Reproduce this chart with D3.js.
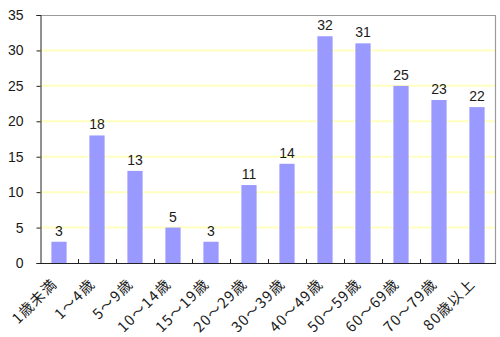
<!DOCTYPE html>
<html>
<head>
<meta charset="utf-8">
<script src="https://cdn.jsdelivr.net/npm/d3@7"></script>
<style>
  html, body { margin: 0; padding: 0; background: #fff; }
  svg { display: block; }
</style>
</head>
<body>
<svg id="chart" width="500" height="337"></svg>
<script>
// Age groups and counts
const categories = ["1歳未満", "1～4歳", "5～9歳", "10～14歳", "15～19歳", "20～29歳",
                    "30～39歳", "40～49歳", "50～59歳", "60～69歳", "70～79歳", "80歳以上"];
const counts = [3, 18, 13, 5, 3, 11, 14, 32, 31, 25, 23, 22];
const yTicks = [0, 5, 10, 15, 20, 25, 30, 35];

const svg = d3.select("#chart");
const margin = { left: 40, right: 4, top: 15, bottom: 74 };
const W = 500, H = 337;
const x0 = margin.left, x1 = W - margin.right;
const y0 = H - margin.bottom, y1 = margin.top;

const x = d3.scaleBand().domain(categories).range([x0, x1]).paddingInner(0.6).paddingOuter(0.3);
const xb = d3.scaleBand().domain(categories).range([x0, x1]);
const y = d3.scaleLinear().domain([0, 35]).range([y0, y1]);

const cjkFont = "'Noto Sans CJK JP', 'Liberation Sans', sans-serif";
const numFont = "'Liberation Sans', Arial, sans-serif";

// Gridlines
svg.append("g").selectAll("line")
  .data(yTicks.filter(t => t > 0 && t < 35))
  .join("line")
  .attr("x1", x0).attr("x2", x1)
  .attr("y1", d => y(d)).attr("y2", d => y(d))
  .attr("stroke", "#ffffc0").attr("stroke-width", 2);

// Plot frame (top and right)
svg.append("path")
  .attr("d", `M${x0},${y1 + 0.5}H${x1 - 0.5}V${y0}`)
  .attr("fill", "none").attr("stroke", "#9a9a9a").attr("stroke-width", 1.2);

// Bars
svg.append("g").selectAll("rect")
  .data(counts)
  .join("rect")
  .attr("x", (d, i) => x(categories[i]))
  .attr("width", x.bandwidth())
  .attr("y", d => y(d))
  .attr("height", d => y(0) - y(d))
  .attr("fill", "#9999ff");

// Value labels
svg.append("g").selectAll("text")
  .data(counts)
  .join("text")
  .attr("x", (d, i) => x(categories[i]) + x.bandwidth() / 2)
  .attr("y", d => y(d) - 6)
  .attr("text-anchor", "middle")
  .attr("font-family", numFont)
  .attr("font-size", 14)
  .attr("fill", "#1a1a1a")
  .text(d => d);

// Y axis
const yAxis = svg.append("g")
  .attr("transform", `translate(${x0 + 0.5},0)`)
  .call(d3.axisLeft(y).tickValues(yTicks).tickSize(4).tickPadding(13));
yAxis.select(".domain").attr("stroke", "#222");
yAxis.selectAll(".tick line").attr("stroke", "#222");
yAxis.selectAll("text")
  .attr("font-family", numFont)
  .attr("font-size", 14).attr("fill", "#1a1a1a");

// X axis: baseline with inward tick marks between categories
svg.append("line")
  .attr("x1", x0).attr("x2", x1).attr("y1", y0 + 0.5).attr("y2", y0 + 0.5)
  .attr("stroke", "#222");
svg.append("g").selectAll("line")
  .data(categories.slice(1))
  .join("line")
  .attr("x1", d => xb(d) + 0.5).attr("x2", d => xb(d) + 0.5)
  .attr("y1", y0).attr("y2", y0 - 4)
  .attr("stroke", "#222");

// Category labels, rotated
svg.append("g").selectAll("text")
  .data(categories)
  .join("text")
  .attr("transform", d => `translate(${xb(d) + xb.bandwidth() / 2 - 1},${y0 + 22}) rotate(-45)`)
  .attr("text-anchor", "end")
  .attr("font-family", cjkFont)
  .attr("font-size", 14.5)
  .attr("letter-spacing", 1.2)
  .attr("fill", "#1a1a1a")
  .text(d => d);
</script>
</body>
</html>
